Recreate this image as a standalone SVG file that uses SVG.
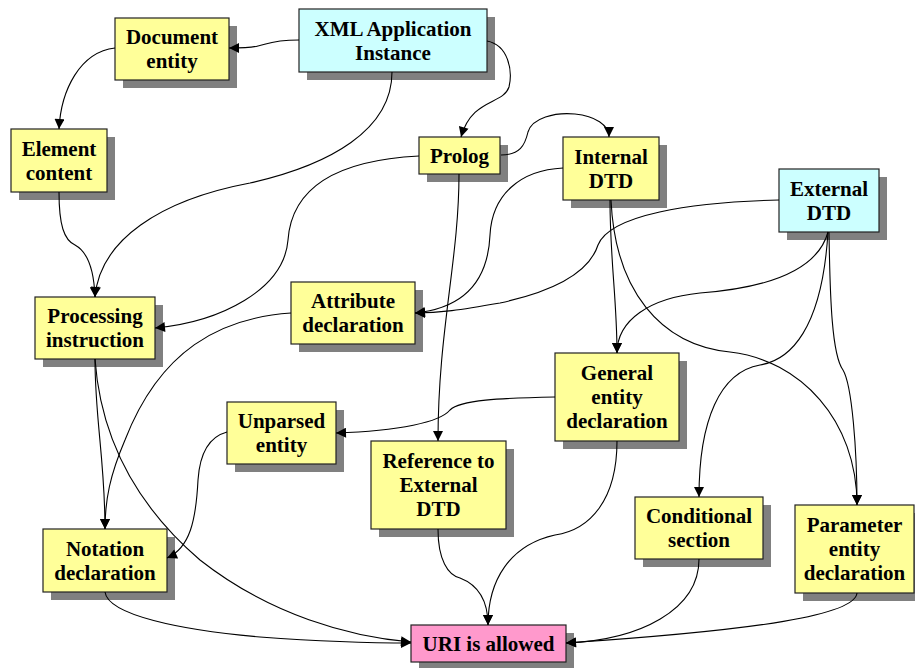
<svg xmlns="http://www.w3.org/2000/svg" width="915" height="668" viewBox="0 0 915 668">
<style>
.sh{fill:#808080}
.y{fill:#FFFF99;stroke:#222;stroke-width:1.2}
.c{fill:#CCFFFF;stroke:#222;stroke-width:1.2}
.p{fill:#FF99CC;stroke:#222;stroke-width:1.2}
text{font-family:"Liberation Serif","Times New Roman",serif;font-weight:bold;font-size:21px;text-anchor:middle;fill:#000}
#edges path{fill:none;stroke:#000;stroke-width:1.1;marker-end:url(#a)}
</style>
<defs>
<marker id="a" viewBox="0 0 10 10" refX="10" refY="5" markerWidth="11" markerHeight="10" orient="auto" markerUnits="userSpaceOnUse"><path d="M0,0 L10,5 L0,10 z" fill="#000"/></marker>
</defs>
<rect width="915" height="668" fill="#fff"/>
<g id="doc"><rect class="sh" x="123" y="26" width="114" height="62"/><rect class="y" x="115" y="18" width="114" height="62"/><text x="172" y="44">Document</text><text x="172" y="68">entity</text></g>
<g id="xml"><rect class="sh" x="307" y="17" width="188" height="63"/><rect class="c" x="299" y="9" width="188" height="63"/><text x="393" y="36">XML Application</text><text x="393" y="60">Instance</text></g>
<g id="elem"><rect class="sh" x="19" y="137" width="96" height="63"/><rect class="y" x="11" y="129" width="96" height="63"/><text x="59" y="156">Element</text><text x="59" y="180">content</text></g>
<g id="prolog"><rect class="sh" x="427" y="145" width="81" height="37"/><rect class="y" x="419" y="137" width="81" height="37"/><text x="459.5" y="163">Prolog</text></g>
<g id="internal"><rect class="sh" x="571" y="145" width="96" height="63"/><rect class="y" x="563" y="137" width="96" height="63"/><text x="611" y="164">Internal</text><text x="611" y="188">DTD</text></g>
<g id="external"><rect class="sh" x="787" y="177" width="100" height="63"/><rect class="c" x="779" y="169" width="100" height="63"/><text x="829" y="196">External</text><text x="829" y="220">DTD</text></g>
<g id="proc"><rect class="sh" x="43" y="305" width="120" height="62"/><rect class="y" x="35" y="297" width="120" height="62"/><text x="95" y="323">Processing</text><text x="95" y="347">instruction</text></g>
<g id="attr"><rect class="sh" x="299" y="290" width="124" height="62"/><rect class="y" x="291" y="282" width="124" height="62"/><text x="353" y="308">Attribute</text><text x="353" y="332">declaration</text></g>
<g id="unparsed"><rect class="sh" x="235" y="410" width="109" height="62"/><rect class="y" x="227" y="402" width="109" height="62"/><text x="281.5" y="428">Unparsed</text><text x="281.5" y="452">entity</text></g>
<g id="general"><rect class="sh" x="563" y="361" width="124" height="88"/><rect class="y" x="555" y="353" width="124" height="88"/><text x="617" y="380">General</text><text x="617" y="404">entity</text><text x="617" y="428">declaration</text></g>
<g id="ref"><rect class="sh" x="379" y="449" width="135" height="88"/><rect class="y" x="371" y="441" width="135" height="88"/><text x="438.5" y="468">Reference to</text><text x="438.5" y="492">External</text><text x="438.5" y="516">DTD</text></g>
<g id="cond"><rect class="sh" x="643" y="505" width="128" height="62"/><rect class="y" x="635" y="497" width="128" height="62"/><text x="699" y="523">Conditional</text><text x="699" y="547">section</text></g>
<g id="param"><rect class="sh" x="803" y="513" width="119" height="88"/><rect class="y" x="795" y="505" width="119" height="88"/><text x="854.5" y="532">Parameter</text><text x="854.5" y="556">entity</text><text x="854.5" y="580">declaration</text></g>
<g id="notation"><rect class="sh" x="51" y="537" width="124" height="63"/><rect class="y" x="43" y="529" width="124" height="63"/><text x="105" y="556">Notation</text><text x="105" y="580">declaration</text></g>
<g id="uri"><rect class="sh" x="419" y="633" width="155" height="37"/><rect class="p" x="411" y="625" width="155" height="37"/><text x="488.5" y="651">URI is allowed</text></g>
<g id="edges">
<path d="M299,40 C270,40 266,45 258,46 C250,48 240,48 229,48"/>
<path d="M115,48 C80,52 61,90 59,129"/>
<path d="M487,41 C508,45 513,70 509,87 C503,105 472,98 461,137"/>
<path d="M392,72 C392,130 330,165 250,183 C160,200 100,240 95,297"/>
<path d="M59,192 C59,225 64,240 75,245 C88,252 94,270 95,297"/>
<path d="M419,156 C340,160 292,185 288,240 C284,290 220,322 155,328"/>
<path d="M501,155 C520,155 525,145 528,132 C532,118 555,112 575,114 C595,116 609,125 609,137"/>
<path d="M563,168 C520,170 492,195 490,235 C488,280 465,308 415,313"/>
<path d="M779,200 C690,202 610,215 598,245 C590,270 560,290 500,303 C460,310 440,313 415,313"/>
<path d="M459,174 C459,260 438,330 438,441"/>
<path d="M610,200 C610,260 617,300 617,353"/>
<path d="M611,200 C615,290 660,345 730,352 C800,360 857,420 857,505"/>
<path d="M828,232 C815,280 740,290 700,293 C650,298 617,320 617,353"/>
<path d="M828,232 C822,330 790,360 760,365 C720,372 699,420 699,497"/>
<path d="M829,232 C830,300 832,355 843,370 C852,385 857,450 857,505"/>
<path d="M555,397 C500,398 460,400 450,410 C440,422 400,431 336,433"/>
<path d="M617,441 C617,500 590,530 555,535 C510,545 488,580 488,625"/>
<path d="M438,529 C438,560 448,575 460,578 C478,585 488,600 488,625"/>
<path d="M95,359 C95,420 105,460 105,529"/>
<path d="M291,313 C220,318 160,350 125,440 C110,475 105,500 105,529"/>
<path d="M95,359 C100,430 130,500 200,560 C270,615 350,637 411,642"/>
<path d="M105,592 C108,615 180,630 260,637 C330,642 380,643 411,643"/>
<path d="M227,432 C212,436 200,450 198,480 C196,520 190,548 167,558"/>
<path d="M699,559 C699,610 640,640 566,643"/>
<path d="M857,593 C855,615 760,630 566,643"/>
</g>
</svg>
